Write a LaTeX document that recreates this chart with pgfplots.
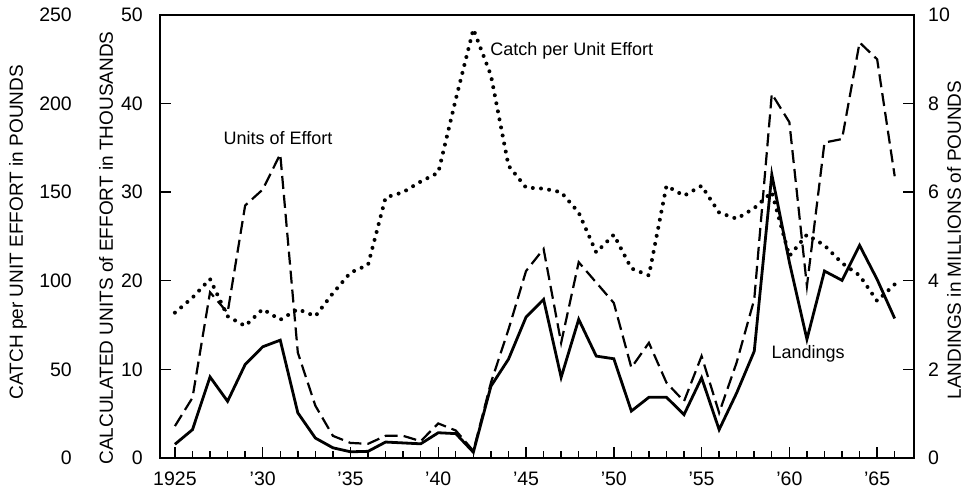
\documentclass[border=0pt]{standalone}
\usepackage{fontspec}
\setmainfont{Liberation Sans}
\usepackage{pgfplots}
\pgfplotsset{compat=1.18}
\begin{document}
\begin{tikzpicture}
\pgfplotsset{
  base/.style={
    width=754pt, height=443pt, scale only axis,
    xmin=1924.15, xmax=1967.1, ymin=0,
    /pgf/number format/assume math mode=true,
    tick label style={font=\fontsize{19.5}{19.5}\selectfont},
    label style={font=\fontsize{19}{19}\selectfont},
    axis line style={line width=1.6pt},
    every tick/.style={line width=1.4pt, black},
    tick align=inside,
    clip=false,
  }
}
% Units of effort (thousands)
\begin{axis}[base, name=main, ymax=50,
  ytick={0,10,...,50},
  xtick={1925,1930,...,1965},
  xticklabels={1925,'30,'35,'40,'45,'50,'55,'60,'65},
  minor xtick={1926,1927,...,1966},
  xtick pos=bottom, ytick pos=left,
  major tick length=11pt, minor tick length=7pt,
  yticklabel style={anchor=east, inner sep=0pt, xshift=-17pt},
  xticklabel style={anchor=north, inner sep=0pt, yshift=-14pt},
  ylabel={CALCULATED UNITS of EFFORT in THOUSANDS},
  ylabel style={at={(axis description cs:-0.0716,0.474)}, anchor=center},
]
\addplot[black, line width=2.2pt, dash pattern=on 13pt off 6pt] coordinates {
(1925,3.6) (1926,6.8) (1927,18.7) (1928,16.4) (1929,28.5) (1930,30.3)
(1931,34.3) (1932,11.9) (1933,5.9) (1934,2.5) (1935,1.7) (1936,1.6)
(1937,2.5) (1938,2.5) (1939,1.9) (1940,3.9) (1941,3.1) (1942,0.8)
(1943,8.5) (1944,14.5) (1945,21.1) (1946,23.6) (1947,13.0) (1948,22.1)
(1949,19.8) (1950,17.5) (1951,10.2) (1952,13.0) (1953,8.5) (1954,6.4)
(1955,11.5) (1956,5.1) (1957,10.8) (1958,17.9) (1959,41.1) (1960,37.9)
(1961,19.4) (1962,35.6) (1963,36.0) (1964,46.9) (1965,45.0) (1966,31.8)
};
\node[font=\fontsize{18}{18}\selectfont] at (axis cs:1930.87,36.1) {Units of Effort};
\node[font=\fontsize{18}{18}\selectfont] at (axis cs:1947.6,45.9) {Catch per Unit Effort};
\node[font=\fontsize{18}{18}\selectfont] at (axis cs:1961.07,11.7) {Landings};
\end{axis}
% Catch per unit effort (pounds)
\begin{axis}[base, ymax=250,
  ytick={0,50,...,250},
  axis y line*=left, hide x axis,
  major tick length=0pt,
  yticklabel style={anchor=east, inner sep=0pt, xshift=-88pt},
  ylabel={CATCH per UNIT EFFORT in POUNDS},
  ylabel style={at={(axis description cs:-0.1883,0.51)}, anchor=center},
]
\addplot[black, line width=4pt, line cap=round, dash pattern=on 0pt off 8.2pt] coordinates {
(1925,82) (1926,90.5) (1927,101) (1928,80) (1929,74.5) (1930,84)
(1931,78) (1932,84) (1933,80) (1934,93) (1935,104.6) (1936,109)
(1937,147) (1938,150) (1939,156) (1940,161) (1941,202.5) (1942,242)
(1943,216) (1944,165) (1945,152.6) (1946,152) (1947,150) (1948,138.5)
(1949,116) (1950,126) (1951,107) (1952,103) (1953,153.6) (1954,148)
(1955,153.6) (1956,138.5) (1957,135) (1958,141) (1959,150) (1960,114)
(1961,126) (1962,120) (1963,110) (1964,103) (1965,88.6) (1966,98)
};
\end{axis}
% Landings (millions of pounds)
\begin{axis}[base, ymax=10,
  ytick={0,2,...,10},
  axis y line*=right, hide x axis,
  major tick length=11pt,
  yticklabel style={anchor=west, inner sep=0pt, xshift=14pt},
  ylabel={LANDINGS in MILLIONS of POUNDS},
  ylabel style={at={(axis description cs:1.0530,0.492)}, anchor=center},
]
\addplot[black, line width=2.8pt] coordinates {
(1925,0.31) (1926,0.64) (1927,1.83) (1928,1.28) (1929,2.11) (1930,2.51)
(1931,2.66) (1932,1.02) (1933,0.45) (1934,0.23) (1935,0.14) (1936,0.15)
(1937,0.36) (1938,0.34) (1939,0.32) (1940,0.57) (1941,0.55) (1942,0.13)
(1943,1.62) (1944,2.23) (1945,3.18) (1946,3.58) (1947,1.82) (1948,3.13)
(1949,2.30) (1950,2.24) (1951,1.06) (1952,1.37) (1953,1.37) (1954,0.98)
(1955,1.81) (1956,0.64) (1957,1.47) (1958,2.41) (1959,6.4) (1960,4.42)
(1961,2.68) (1962,4.22) (1963,4.01) (1964,4.80) (1965,4.03) (1966,3.15)
};
\end{axis}
\pgfresetboundingbox
\path ([shift={(-160pt,-32pt)}]main.south west) rectangle ([shift={(53pt,15pt)}]main.north east);
\end{tikzpicture}
\end{document}
